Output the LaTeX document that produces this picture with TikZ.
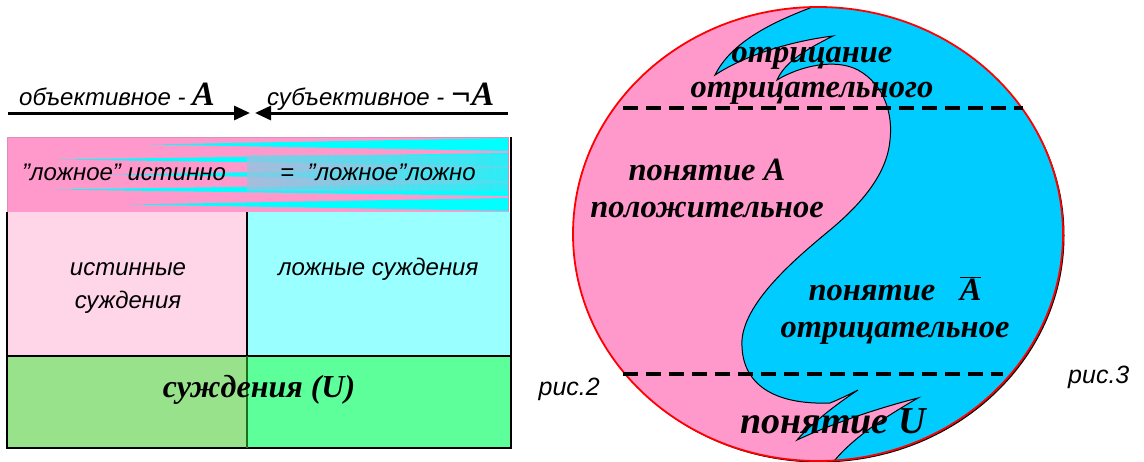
\documentclass[tikz,border=0pt]{standalone}
\usepackage{fontspec}
\setmainfont{Liberation Serif}
\setsansfont{Liberation Sans}
\usepackage{tikz}
\usetikzlibrary{arrows.meta}

\definecolor{bannerpink}{HTML}{FF99CC}
\definecolor{bannercyan}{HTML}{00FFFF}
\definecolor{bandblue}{HTML}{99C2E0}
\definecolor{boxpink}{HTML}{FFD5E8}
\definecolor{boxcyan}{HTML}{99FFFF}
\definecolor{greenL}{HTML}{99E28C}
\definecolor{greenR}{HTML}{5CFF99}
\definecolor{greenline}{HTML}{1E6E1E}
\definecolor{circpink}{HTML}{FF99CC}
\definecolor{circcyan}{HTML}{00CCFF}

\newcommand{\serifBI}{\rmfamily\bfseries\itshape}

\tikzset{
  arial/.style={font=\sffamily\itshape\fontsize{24}{28}\selectfont, inner sep=0pt, anchor=base west},
  bigtxt/.style={font=\serifBI\fontsize{32.5}{36}\selectfont, inner sep=0pt, anchor=base},
  bigarrow/.style={line width=3pt, -{Triangle[length=16pt,width=14pt]}},
  cutline/.style={line width=4pt, dash pattern=on 15pt off 8pt},
}

\begin{document}
\begin{tikzpicture}[x=1pt,y=-1pt]
    \useasboundingbox (0,0) rectangle (1144,461);
    % arrows on top
    \coordinate (arrL) at (8,113);
    \coordinate (tipL) at (250,113);
    \coordinate (arrR) at (508,113);
    \coordinate (tipR) at (255,113);
    \draw[bigarrow] (arrL) -- (tipL);
    \draw[bigarrow] (arrR) -- (tipR);
    \node[arial] (objlbl) at (19,105) {объективное - {\serifBI\fontsize{34}{34}\selectfont A}};
    \node[arial] (subjlbl) at (267,105) {субъективное - {\serifBI\fontsize{34}{34}\selectfont ¬A}};
    %
    % banner
    \fill[bannerpink] (7,137) rectangle (508,212);
    \foreach \yc/\tip in {144.5/150, 159.5/60, 174.5/110, 189.5/55, 204.5/130}
      \fill[bannercyan] (\tip,\yc) -- (508,\yc-6.5) -- (508,\yc+6.5) -- cycle;
    \shade[left color=bandblue, right color=bandblue!35!bannercyan, opacity=0.85] (247,155) rectangle (508,190);
    \draw[bannerpink!70!gray, line width=0.6pt] (7,137) rectangle (508,212);
    \node[arial] (falsetrue) at (22,180) {"ложное" истинно};
    \node[arial] (falsefalse) at (280,180) {=\ \ "ложное"ложно};
    %
    % table
    \fill[boxpink] (7,212) rectangle (247,356);
    \fill[boxcyan] (247,212) rectangle (511,356);
    \fill[greenL] (7,356) rectangle (247,448);
    \fill[greenR] (247,356) rectangle (511,448);
    \draw[line width=1.5pt] (7,212) -- (7,448) -- (511,448) -- (511,137);
    \draw[line width=1.5pt] (7,356) -- (511,356);
    \draw[line width=1.5pt] (247,212) -- (247,356);
    \draw[greenline, line width=1.5pt] (247,356) -- (247,448);
    \node[arial, anchor=base] (truejudg) at (128,275) {истинные};
    \node[arial, anchor=base] (truejudg2) at (128,308) {суждения};
    \node[arial] (falsejudg) at (278,275) {ложные суждения};
    \node[bigtxt, font=\serifBI\fontsize{32}{36}\selectfont] (judgU) at (259,397) {суждения (U)};
    %
    % circle
    \fill[black] (819.5,235.5) ellipse [x radius=245pt, y radius=227pt];
    \fill[circpink] (818,234) ellipse [x radius=245pt, y radius=227pt];
    \begin{scope}
      \clip (818,234) ellipse [x radius=245pt, y radius=227pt];
      \path[fill=circcyan, draw=black, line width=1pt] (812,-5) -- (810,8)
        .. controls (765,25) and (730,45) .. (715,75)
        .. controls (750,52) and (800,40) .. (833,36)
        .. controls (805,50) and (785,62) .. (777,80)
        .. controls (800,66) and (835,58) .. (858,70)
        .. controls (885,85) and (893,115) .. (890,140)
        .. controls (887,175) and (860,205) .. (830,230)
        .. controls (800,255) and (745,300) .. (742,340)
        .. controls (740,385) and (775,405) .. (830,403)
        .. controls (840,399) and (850,394) .. (858,390)
        .. controls (835,405) and (810,425) .. (797,440)
        .. controls (840,420) and (890,405) .. (918,398)
        .. controls (880,420) and (850,440) .. (830,466)
        -- (1100,466) -- (1100,-5) -- cycle;
    \end{scope}
    \draw[red, line width=1.8pt] (818,234) ellipse [x radius=245pt, y radius=227pt];
    %
    \coordinate (cutTL) at (623,108);
    \coordinate (cutTR) at (1023,108);
    \coordinate (cutBL) at (623,374);
    \coordinate (cutBR) at (1003,374);
    \draw[cutline] (cutTL) -- (cutTR);
    \draw[cutline] (cutBL) -- (cutBR);
    %
    \node[bigtxt] (negneg) at (812,62) {отрицание};
    \node[bigtxt] (negneg2) at (812,97) {отрицательного};
    \node[bigtxt] (posA) at (707,180) {понятие A};
    \node[bigtxt] (posA2) at (707,217) {положительное};
    \node[bigtxt] (negA) at (895,300) {понятие\ \ \ $\overline{\mbox{\serifBI A}}$};
    \node[bigtxt] (negA2) at (895,337) {отрицательное};
    \node[bigtxt, font=\serifBI\fontsize{38}{40}\selectfont] (conceptU) at (833,433) {понятие U};
    %
    \node[arial, anchor=base east, font=\sffamily\itshape\fontsize{25}{28}\selectfont] (fig2) at (600,395) {рис.2};
    \node[arial, font=\sffamily\itshape\fontsize{25}{28}\selectfont] (fig3) at (1068,383) {рис.3};
  \end{tikzpicture}
\end{document}
